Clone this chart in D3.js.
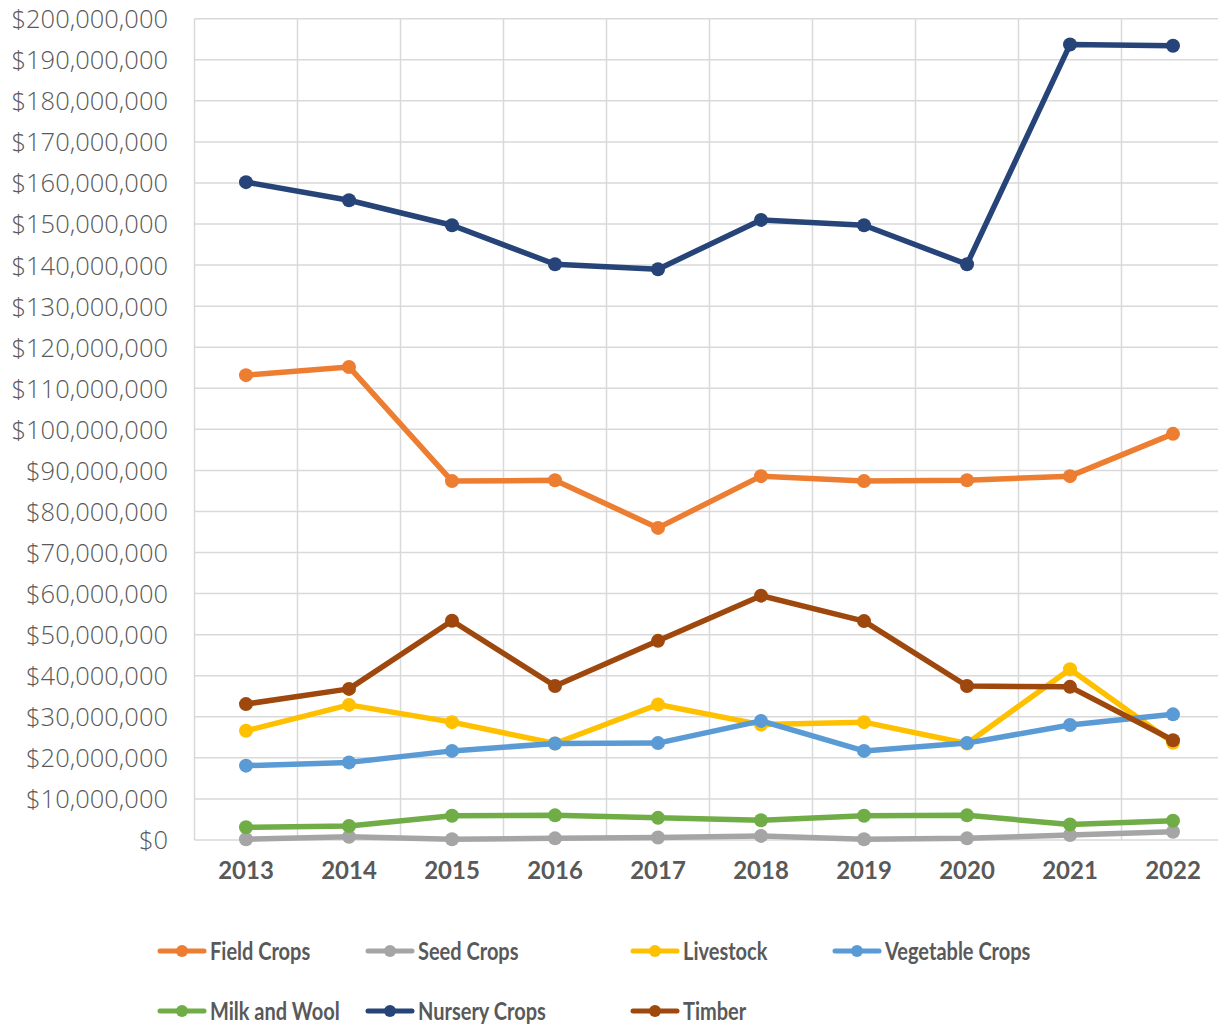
<!DOCTYPE html>
<html><head><meta charset="utf-8">
<script src="https://cdn.jsdelivr.net/npm/d3@7"></script>
<style>body{margin:0;background:#fff}svg{display:block}</style>
</head><body>
<svg id="c" width="1218" height="1027"></svg>
<script>
const years = ["2013","2014","2015","2016","2017","2018","2019","2020","2021","2022"];
const seriesNames = ["Field Crops","Seed Crops","Livestock","Vegetable Crops","Milk and Wool","Nursery Crops","Timber"];
const fieldCrops    = [113.2,115.2,87.4,87.6,76.0,88.6,87.4,87.6,88.6,98.9];
const seedCrops     = [0.2,0.8,0.2,0.4,0.6,1.0,0.2,0.4,1.2,2.0];
const livestock     = [26.6,32.9,28.7,23.5,33.0,28.1,28.7,23.5,41.6,23.7];
const vegetableCrops= [18.1,18.9,21.7,23.5,23.6,29.0,21.7,23.6,28.0,30.6];
const milkAndWool   = [3.1,3.4,5.9,6.0,5.4,4.8,5.9,6.0,3.8,4.7];
const nurseryCrops  = [160.2,155.8,149.7,140.2,139.0,151.0,149.7,140.2,193.7,193.4];
const timber        = [33.1,36.8,53.4,37.5,48.5,59.5,53.3,37.5,37.3,24.3];
const seriesValues = [fieldCrops,seedCrops,livestock,vegetableCrops,milkAndWool,nurseryCrops,timber];
const colors = ["#ED7D31","#A5A5A5","#FFC000","#5B9BD5","#70AD47","#264478","#9E480E"];
const yTicks = d3.range(0, 200000001, 10000000);

const svg = d3.select("#c");
const x = d3.scaleBand().domain(years).range([194.5, 1224.5]);
const y = d3.scaleLinear().domain([0, 200000000]).range([840, 18.7]);

// gridlines
const grid = svg.append("g");
grid.selectAll("line.h").data(yTicks).join("line")
  .attr("x1", 194.5).attr("x2", 1218).attr("y1", d=>y(d)).attr("y2", d=>y(d))
  .attr("stroke", "#D9D9D9").attr("stroke-width", 1.5);
const vlines = years.map(yr => x(yr));
grid.selectAll("line.v").data(vlines).join("line")
  .attr("x1", d=>d).attr("x2", d=>d).attr("y1", y(0)).attr("y2", y(200000000))
  .attr("stroke", "#D9D9D9").attr("stroke-width", 1.5);

// y axis
const fmt = d3.format(",");
const yAxis = d3.axisLeft(y).tickValues(yTicks).tickSize(0).tickPadding(0)
  .tickFormat(d => "$" + fmt(d));
const ya = svg.append("g").attr("transform","translate(168,0)").call(yAxis);
ya.select(".domain").remove();
ya.selectAll("text").attr("font-family","'Open Sans'").attr("font-weight","300").attr("font-size","25.5px")
  .attr("fill","#595959").attr("dy","0.35em");

// x axis
const xAxis = d3.axisBottom(x).tickSize(0).tickPadding(0);
const xa = svg.append("g").attr("transform","translate(0,871)").call(xAxis);
xa.select(".domain").remove();
xa.selectAll("text").attr("font-family","Lato").attr("font-weight","700").attr("font-size","24px")
  .attr("fill","#595959").attr("dy","0.35em");

// lines
const line = d3.line().x((d,i)=>x(years[i]) + x.bandwidth()/2).y(d=>y(d*1e6));
seriesValues.forEach((vals, si) => {
  const g = svg.append("g");
  g.append("path").attr("d", line(vals)).attr("fill","none")
    .attr("stroke", colors[si]).attr("stroke-width", 5.5).attr("stroke-linejoin","round");
  g.selectAll("circle").data(vals).join("circle")
    .attr("cx",(d,i)=>x(years[i]) + x.bandwidth()/2).attr("cy", d=>y(d*1e6)).attr("r", 7)
    .attr("fill", colors[si]);
});

// legend
const legX = [158, 366, 631, 833];
const legY = [951, 1011];
seriesNames.forEach((name, i) => {
  const lx = legX[i % 4], ly = legY[Math.floor(i / 4)];
  const g = svg.append("g").attr("transform", `translate(${lx},${ly})`);
  g.append("line").attr("x1",2).attr("x2",46).attr("y1",0).attr("y2",0)
    .attr("stroke", colors[i]).attr("stroke-width",5).attr("stroke-linecap","round");
  g.append("circle").attr("cx",24).attr("cy",0).attr("r",6).attr("fill",colors[i]);
  const t = g.append("text").attr("x",52).attr("y",0).attr("dy","0.35em")
    .attr("font-family","Lato").attr("font-weight","700").attr("font-size","25px")
    .attr("fill","#595959").text(name);
  const w = t.node().getComputedTextLength();
  t.attr("textLength", w*0.8).attr("lengthAdjust","spacingAndGlyphs");
});
</script>
</body></html>
